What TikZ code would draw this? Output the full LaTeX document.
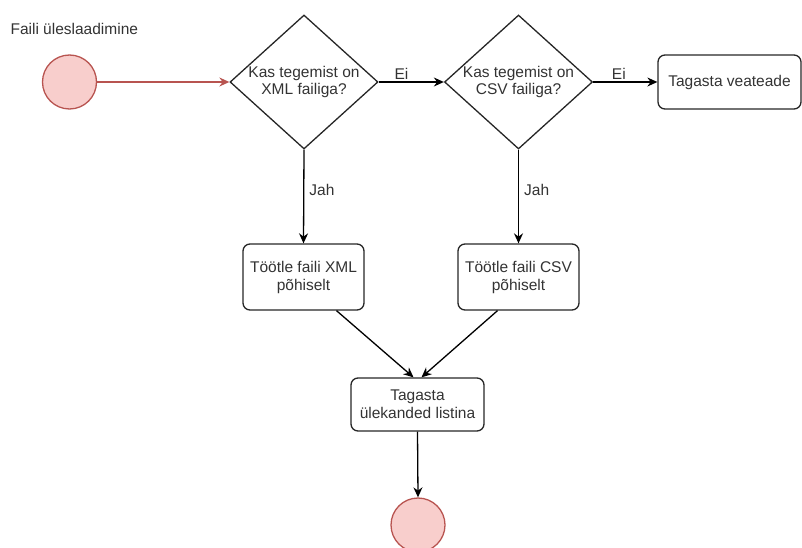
\documentclass[tikz,border=0pt]{standalone}
\usepackage{fontspec}
\setmainfont{Liberation Sans}
\usetikzlibrary{arrows.meta,calc,shapes.geometric}
\definecolor{pinkfill}{HTML}{F8CECC}
\definecolor{pinkline}{HTML}{B85450}
\definecolor{txt}{HTML}{333333}
\begin{document}
\begin{tikzpicture}[x=1pt,y=-1pt,
  every node/.style={font=\fontsize{15.5}{18}\selectfont, text=txt},
  startend/.style={circle, draw=pinkline, fill=pinkfill, line width=1.3pt, minimum size=54pt, inner sep=0pt},
  decision/.style={draw=black!85, line width=1.3pt, shape=diamond, minimum width=148pt, minimum height=134pt, inner sep=0pt},
  procbox/.style={draw=black!85, line width=1.3pt, rounded corners=7pt, align=center, inner sep=0pt},
  conn/.style={draw=black, line width=1.3pt, -{Stealth[length=10pt,width=9pt]}},
  lbl/.style={inner sep=2pt}
]
\useasboundingbox (0,0) rectangle (802,548);
\node[startend] (start) at (69.5,82) {};
\node[anchor=west] (title) at (7,29) {Faili üleslaadimine};
\node[decision, label={[align=center, font=\fontsize{15.5}{17}\selectfont, text=txt]center:Kas tegemist on\\XML failiga?}] (d1) at (304,82) {};
\node[decision, label={[align=center, font=\fontsize{15.5}{17}\selectfont, text=txt]center:Kas tegemist on\\CSV failiga?}] (d2) at (518.5,82) {};
\node[procbox, minimum width=143pt, minimum height=54pt] (err) at (729.5,82) {Tagasta veateade};
\node[procbox, minimum width=121pt, minimum height=66pt] (xml) at (303.5,277) {Töötle faili XML\\põhiselt};
\node[procbox, minimum width=121pt, minimum height=66pt] (csv) at (518.5,277) {Töötle faili CSV\\põhiselt};
\node[procbox, minimum width=133pt, minimum height=53pt] (fin) at (417.5,404.5) {Tagasta\\ülekanded listina};
\node[startend] (end) at (418,525) {};

\draw[conn, draw=pinkline, color=pinkline] (start) -- (d1.west);
\draw[conn] (d1.east) -- node[lbl, above, pos=0.35] {Ei} (d2.west);
\draw[conn] (d2.east) -- node[lbl, above, pos=0.4] {Ei} (err.west);
\draw[conn] (d1.south) -- node[lbl, right, pos=0.43, xshift=3pt] {Jah} (xml.north);
\draw[conn] (d2.south) -- node[lbl, right, pos=0.43, xshift=3pt] {Jah} (csv.north);
\draw[conn] ([xshift=33pt]xml.south) -- ([xshift=-4pt]fin.north);
\draw[conn] ([xshift=-21pt]csv.south) -- ([xshift=4pt]fin.north);
\draw[conn] (fin.south) -- (end.north);
\end{tikzpicture}
\end{document}
